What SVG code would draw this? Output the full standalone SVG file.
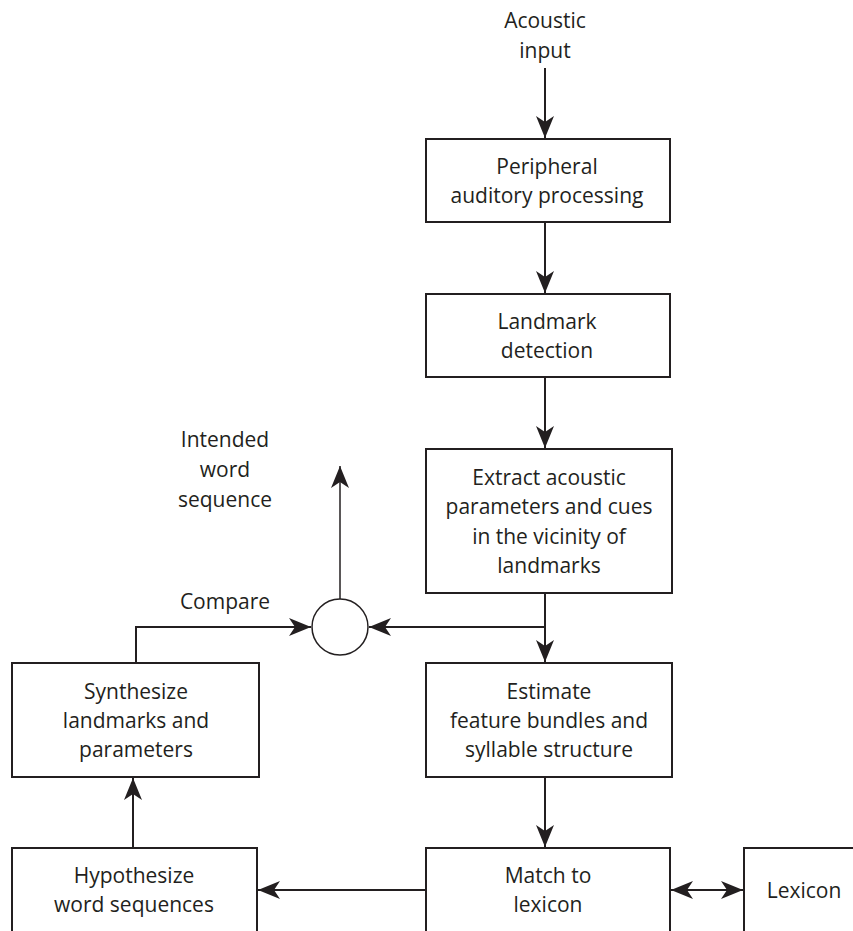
<svg xmlns="http://www.w3.org/2000/svg" width="853" height="931" viewBox="0 0 853 931">
<style>
.box{fill:#fff;stroke:#231f20;stroke-width:2}
.ln{fill:none;stroke:#231f20;stroke-width:2}
.thin{fill:none;stroke:#231f20;stroke-width:1.5}
text{font-family:"Open Sans","Liberation Sans",sans-serif;font-size:21px;fill:#231f20;text-anchor:middle;dominant-baseline:central}
</style>
<defs>
<marker id="ah" viewBox="0 0 22 18" refX="22" refY="9" markerWidth="22" markerHeight="18" markerUnits="userSpaceOnUse" orient="auto-start-reverse">
<path d="M0,0 L22,9 L0,18 L6,9 Z" fill="#231f20"/>
</marker>
</defs>
<g id="connectors">
<line class="ln" x1="545" y1="68" x2="545" y2="138" marker-end="url(#ah)"/>
<line class="ln" x1="545" y1="222" x2="545" y2="293" marker-end="url(#ah)"/>
<line class="ln" x1="545" y1="377" x2="545" y2="448" marker-end="url(#ah)"/>
<line class="ln" x1="545" y1="593" x2="545" y2="662" marker-end="url(#ah)"/>
<line class="ln" x1="545" y1="627" x2="369" y2="627" marker-end="url(#ah)"/>
<polyline class="ln" points="136,663 136,627 311,627" marker-end="url(#ah)"/>
<line class="thin" x1="340" y1="599" x2="340" y2="466" marker-end="url(#ah)"/>
<line class="ln" x1="545" y1="777" x2="545" y2="847" marker-end="url(#ah)"/>
<line class="ln" x1="426" y1="890" x2="258" y2="890" marker-end="url(#ah)"/>
<line class="ln" x1="133" y1="848" x2="133" y2="778" marker-end="url(#ah)"/>
<line class="ln" x1="671" y1="890" x2="743" y2="890" marker-start="url(#ah)" marker-end="url(#ah)"/>
</g>
<g id="acoustic-input"><text x="545" y="20">Acoustic</text><text x="545" y="50">input</text></g>
<g id="peripheral"><rect class="box" x="426" y="139" width="244" height="83"/><text x="547" y="166">Peripheral</text><text x="547" y="195">auditory processing</text></g>
<g id="landmark"><rect class="box" x="426" y="294" width="244" height="83"/><text x="547" y="321">Landmark</text><text x="547" y="350">detection</text></g>
<g id="extract"><rect class="box" x="426" y="449" width="246" height="144"/><text x="549" y="477">Extract acoustic</text><text x="549" y="506">parameters and cues</text><text x="549" y="536">in the vicinity of</text><text x="549" y="565">landmarks</text></g>
<g id="estimate"><rect class="box" x="426" y="663" width="246" height="114"/><text x="549" y="691">Estimate</text><text x="549" y="720">feature bundles and</text><text x="549" y="749">syllable structure</text></g>
<g id="match"><rect class="box" x="426" y="848" width="244" height="90"/><text x="548" y="875">Match to</text><text x="548" y="904">lexicon</text></g>
<g id="lexicon"><rect class="box" x="744" y="848" width="120" height="90"/><text x="804" y="890">Lexicon</text></g>
<g id="hypothesize"><rect class="box" x="12" y="848" width="245" height="90"/><text x="134" y="875">Hypothesize</text><text x="134" y="904">word sequences</text></g>
<g id="synthesize"><rect class="box" x="12" y="663" width="247" height="114"/><text x="136" y="691">Synthesize</text><text x="136" y="720">landmarks and</text><text x="136" y="749">parameters</text></g>
<g id="compare"><circle cx="340" cy="627" r="28" fill="#fff" stroke="#231f20" stroke-width="1.5"/><text x="225" y="601">Compare</text></g>
<g id="intended"><text x="225" y="439">Intended</text><text x="225" y="469">word</text><text x="225" y="499">sequence</text></g>
</svg>
